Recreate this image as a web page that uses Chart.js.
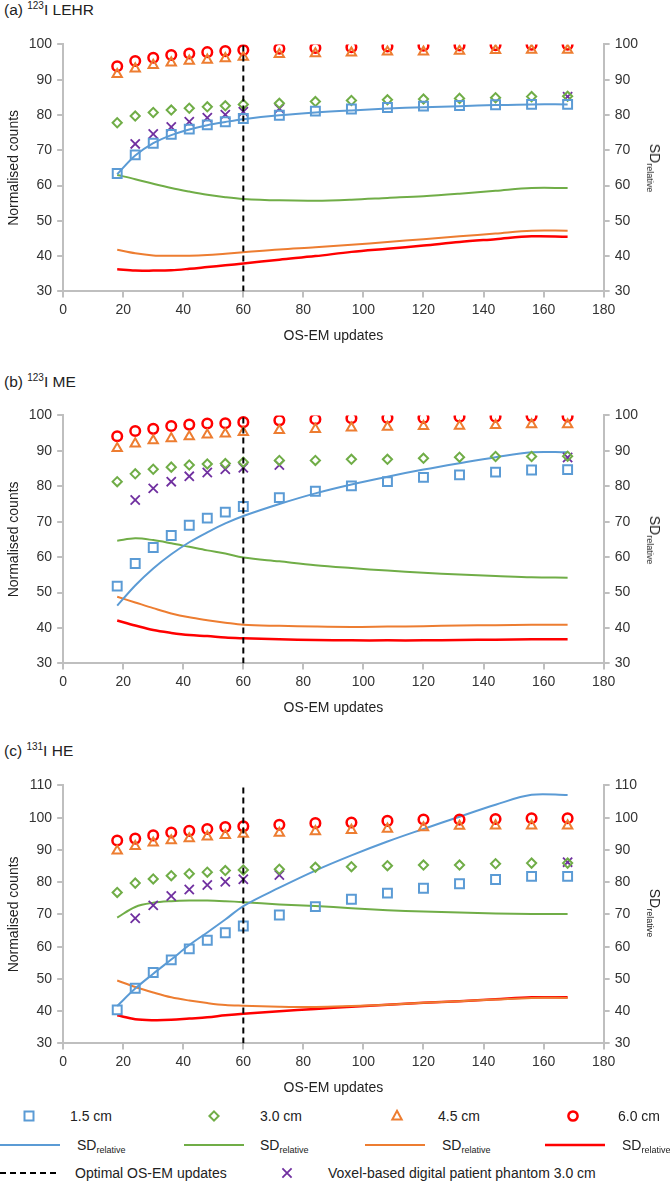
<!DOCTYPE html>
<html>
<head>
<meta charset="utf-8">
<script src="https://cdn.jsdelivr.net/npm/chart.js"></script>
<style>
  body { margin: 0; background: #fff; font-family: "Liberation Sans", Arial, sans-serif; color: #222; }
  #page { position: relative; width: 670px; height: 1181px; overflow: hidden; }
  canvas { position: absolute; left: 0; }
  .ptitle { position: absolute; left: 4px; font-size: 15.5px; line-height: 18px; }
  .ptitle sup { font-size: 10px; vertical-align: 6px; line-height: 0; }
  .sdtitle { position: absolute; font-size: 14px; white-space: nowrap; transform: translate(-50%, -50%) rotate(90deg); }
  .sdtitle sub, .lg sub { font-size: 9px; vertical-align: -3px; line-height: 0; }
  .lg { position: absolute; font-size: 14px; white-space: nowrap; transform: translateY(-50%); }
  svg.ic { position: absolute; overflow: visible; }
</style>
</head>
<body>
<div id="page">
  <div class="ptitle" style="top:1px">(a) <sup>123</sup>I LEHR</div>
  <canvas id="chartA" width="670" height="316" style="top:31px"></canvas>
  <div class="sdtitle" style="left:655px; top:168px">SD<sub>relative</sub></div>

  <div class="ptitle" style="top:373px">(b) <sup>123</sup>I ME</div>
  <canvas id="chartB" width="670" height="317" style="top:402px"></canvas>
  <div class="sdtitle" style="left:655px; top:540px">SD<sub>relative</sub></div>

  <div class="ptitle" style="top:742px">(c) <sup>131</sup>I HE</div>
  <canvas id="chartC" width="670" height="327" style="top:772px"></canvas>
  <div class="sdtitle" style="left:655px; top:913px">SD<sub>relative</sub></div>

  <div id="legend"></div>
</div>
<script>
// OS-EM updates (x) and shared settings
const xUpdates = [18, 24, 30, 36, 42, 48, 54, 60, 72, 84, 96, 108, 120, 132, 144, 156, 168];
const xVoxel = [24, 30, 36, 42, 48, 54, 60, 72, 168];
const optimalUpdates = 60;
const xTicks = [0, 20, 40, 60, 80, 100, 120, 140, 160, 180];

// (a) 123I LEHR
const a_sq15 = [63.4, 68.7, 72.0, 74.5, 76.0, 77.2, 78.1, 79.0, 79.9, 81.1, 81.7, 82.1, 82.5, 82.7, 82.9, 83.0, 83.0];
const a_di30 = [77.8, 79.7, 80.7, 81.4, 81.9, 82.3, 82.6, 83.0, 83.3, 83.8, 84.1, 84.3, 84.5, 84.7, 84.9, 85.2, 85.3];
const a_tr45 = [91.5, 93.1, 94.1, 94.8, 95.3, 95.6, 96.0, 96.4, 97.2, 97.4, 97.6, 97.9, 97.9, 98.1, 98.3, 98.4, 98.4];
const a_ci60 = [93.8, 95.3, 96.2, 97.0, 97.4, 97.8, 98.1, 98.4, 98.8, 99.0, 99.2, 99.4, 99.6, 99.7, 99.8, 99.9, 99.9];
const a_vox = [71.8, 74.6, 76.6, 78.1, 79.2, 80.1, 80.9, 81.8, 85.2];
const a_sd15 = [63.2, 68.5, 72.0, 74.3, 75.9, 77.1, 78.0, 78.8, 79.9, 80.7, 81.3, 81.8, 82.2, 82.5, 82.8, 83.0, 83.0];
const a_sd30 = [63.0, 61.8, 60.5, 59.3, 58.3, 57.4, 56.7, 56.2, 55.8, 55.7, 56.0, 56.5, 57.0, 57.7, 58.5, 59.3, 59.3];
const a_sd45 = [41.8, 40.8, 40.2, 40.1, 40.1, 40.3, 40.7, 41.1, 41.9, 42.5, 43.2, 44.0, 44.8, 45.6, 46.4, 47.2, 47.2];
const a_sd60 = [36.3, 35.9, 35.9, 36.0, 36.4, 36.9, 37.4, 37.9, 39.0, 40.0, 41.2, 42.1, 43.0, 44.0, 44.8, 45.6, 45.5];

// (b) 123I ME
const b_sq15 = [51.8, 58.2, 62.7, 66.1, 69.0, 71.0, 72.7, 74.3, 76.8, 78.6, 80.1, 81.3, 82.5, 83.2, 84.0, 84.6, 84.7];
const b_di30 = [81.3, 83.5, 84.8, 85.4, 86.0, 86.3, 86.4, 86.8, 87.3, 87.3, 87.6, 87.6, 87.9, 88.2, 88.4, 88.4, 88.5];
const b_tr45 = [90.7, 92.0, 92.9, 93.5, 94.0, 94.5, 94.8, 95.2, 95.8, 96.1, 96.5, 96.7, 96.9, 97.0, 97.2, 97.4, 97.4];
const b_ci60 = [94.1, 95.6, 96.2, 97.0, 97.4, 97.7, 97.8, 98.1, 98.6, 98.9, 99.2, 99.3, 99.3, 99.6, 99.6, 99.8, 99.7];
const b_vox = [76.1, 79.4, 81.3, 82.8, 83.9, 84.8, 85.2, 86.0, 88.1];
const b_sd15 = [46.3, 52.0, 56.8, 60.8, 64.2, 67.0, 69.5, 71.6, 75.0, 78.0, 80.5, 82.7, 84.7, 86.5, 88.2, 89.6, 89.6];
const b_sd30 = [64.6, 65.3, 64.8, 63.9, 62.9, 61.9, 61.0, 59.9, 58.8, 57.7, 56.9, 56.2, 55.6, 55.1, 54.7, 54.3, 54.2];
const b_sd45 = [48.8, 47.2, 45.6, 44.1, 43.0, 42.2, 41.5, 40.9, 40.6, 40.4, 40.3, 40.4, 40.5, 40.7, 40.8, 40.9, 40.9];
const b_sd60 = [42.1, 40.7, 39.4, 38.6, 38.0, 37.7, 37.3, 37.1, 36.8, 36.6, 36.5, 36.5, 36.5, 36.6, 36.7, 36.8, 36.8];

// (c) 131I HE
const c_sq15 = [40.4, 47.1, 52.0, 55.9, 59.3, 62.0, 64.3, 66.4, 69.8, 72.4, 74.7, 76.6, 78.1, 79.5, 80.8, 81.8, 81.8];
const c_di30 = [76.8, 79.7, 81.0, 82.0, 82.6, 83.1, 83.6, 83.8, 84.0, 84.6, 84.8, 85.1, 85.3, 85.3, 85.7, 85.9, 85.9];
const c_tr45 = [89.7, 91.1, 92.2, 92.9, 93.5, 94.1, 94.5, 94.9, 95.2, 95.7, 96.1, 96.5, 96.9, 97.4, 97.5, 97.5, 97.5];
const c_ci60 = [92.9, 93.5, 94.5, 95.4, 95.9, 96.5, 97.1, 97.3, 97.8, 98.3, 98.5, 99.0, 99.4, 99.4, 99.6, 99.8, 99.8];
const c_vox = [68.8, 72.8, 75.7, 77.7, 79.1, 80.1, 80.9, 82.2, 86.2];
const c_sd15 = [41.6, 47.0, 51.6, 56.0, 60.5, 64.4, 68.4, 72.6, 78.3, 83.6, 88.3, 92.6, 96.5, 100.3, 104.0, 107.1, 107.0];
const c_sd30 = [69.0, 72.3, 73.6, 74.1, 74.3, 74.3, 74.1, 73.8, 73.1, 72.6, 71.9, 71.3, 70.9, 70.6, 70.3, 70.1, 70.1];
const c_sd45 = [49.5, 47.5, 45.8, 44.3, 43.3, 42.5, 41.9, 41.7, 41.4, 41.3, 41.6, 42.0, 42.6, 43.1, 43.6, 44.1, 44.1];
const c_sd60 = [38.7, 37.5, 37.2, 37.3, 37.7, 38.1, 38.7, 39.2, 40.0, 40.7, 41.4, 42.0, 42.6, 43.1, 43.7, 44.3, 44.3];

const BLUE = '#5b9bd5', GREEN = '#70ad47', ORANGE = '#ed7d31', RED = '#ff0000', PURPLE = '#7030a0';
const AXIS = '#bfbfbf';
const FONT = { family: '"Liberation Sans", Arial, sans-serif', size: 14 };

function pts(xs, ys) {
  return ys.map((y, i) => ({ x: xs[i], y: y }));
}

function markers(label, xs, ys, style, radius, color, bw) {
  return {
    label: label, data: pts(xs, ys), showLine: false,
    pointStyle: style, pointRadius: radius, pointHoverRadius: radius,
    borderColor: color, backgroundColor: 'rgba(0,0,0,0)',
    pointBorderWidth: bw, order: 1, yAxisID: 'y'
  };
}

function sdLine(ys, color, width) {
  return {
    label: 'SDrelative', data: pts(xUpdates, ys), showLine: true,
    borderColor: color, borderWidth: width, pointRadius: 0,
    tension: 0.35, order: 2, yAxisID: 'y2'
  };
}

function yScale(pos, yMax, withTitle) {
  return {
    type: 'linear', position: pos, min: 30, max: yMax,
    ticks: { stepSize: 10, color: '#333', font: FONT, padding: 5 },
    border: { color: AXIS, width: 2 },
    grid: { drawOnChartArea: false, color: AXIS, lineWidth: 2, tickLength: 6 },
    title: withTitle ? { display: true, text: 'Normalised counts', color: '#222', font: FONT, padding: { top: 5, bottom: 1 } } : { display: false }
  };
}

function buildChart(id, yMax, d) {
  new Chart(document.getElementById(id), {
    type: 'scatter',
    data: {
      datasets: [
        {
          label: 'Optimal OS-EM updates',
          data: [{ x: optimalUpdates, y: 30 }, { x: optimalUpdates, y: yMax }],
          showLine: true, borderColor: '#000', borderWidth: 2, borderDash: [6, 4],
          pointRadius: 0, order: 0, yAxisID: 'y'
        },
        markers('1.5 cm', xUpdates, d.sq, 'rect', 6.3, BLUE, 2),
        markers('3.0 cm', xUpdates, d.di, 'rectRot', 4.6, GREEN, 2),
        markers('4.5 cm', xUpdates, d.tr, 'triangle', 5.4, ORANGE, 2),
        markers('6.0 cm', xUpdates, d.ci, 'circle', 4.8, RED, 2.5),
        markers('Voxel-based digital patient phantom 3.0 cm', xVoxel, d.vox, 'crossRot', 6.5, PURPLE, 1.8),
        sdLine(d.sd15, BLUE, 2),
        sdLine(d.sd30, GREEN, 2),
        sdLine(d.sd45, ORANGE, 2),
        sdLine(d.sd60, RED, 2.5)
      ]
    },
    options: {
      responsive: false,
      animation: false,
      devicePixelRatio: 1,
      layout: { padding: { left: 1, right: 27, top: 4, bottom: 0 } },
      plugins: { legend: { display: false }, tooltip: { enabled: false } },
      scales: {
        x: {
          type: 'linear', min: 0, max: 180,
          afterBuildTicks: (s) => { s.ticks = xTicks.map(v => ({ value: v })); },
          ticks: { color: '#333', font: FONT, padding: 4, maxRotation: 0 },
          border: { color: AXIS, width: 2 },
          grid: { drawOnChartArea: false, color: AXIS, lineWidth: 2, tickLength: 6 },
          title: { display: true, text: 'OS-EM updates', color: '#222', font: FONT, padding: { top: 6, bottom: 2 } }
        },
        y: yScale('left', yMax, true),
        y2: yScale('right', yMax, false)
      }
    }
  });
}

buildChart('chartA', 100, { sq: a_sq15, di: a_di30, tr: a_tr45, ci: a_ci60, vox: a_vox, sd15: a_sd15, sd30: a_sd30, sd45: a_sd45, sd60: a_sd60 });
buildChart('chartB', 100, { sq: b_sq15, di: b_di30, tr: b_tr45, ci: b_ci60, vox: b_vox, sd15: b_sd15, sd30: b_sd30, sd45: b_sd45, sd60: b_sd60 });
buildChart('chartC', 110, { sq: c_sq15, di: c_di30, tr: c_tr45, ci: c_ci60, vox: c_vox, sd15: c_sd15, sd30: c_sd30, sd45: c_sd45, sd60: c_sd60 });

// shared legend below the three panels
const legendItems = [
  { icon: 'rect', color: BLUE, ix: 29, tx: 70, y: 1116, text: '1.5 cm' },
  { icon: 'diamond', color: GREEN, ix: 214, tx: 260, y: 1116, text: '3.0 cm' },
  { icon: 'triangle', color: ORANGE, ix: 397, tx: 438, y: 1116, text: '4.5 cm' },
  { icon: 'circle', color: RED, ix: 573, tx: 618, y: 1116, text: '6.0 cm' },
  { icon: 'line', color: BLUE, ix: 0, tx: 77, y: 1145, text: 'SD<sub>relative</sub>' },
  { icon: 'line', color: GREEN, ix: 184, tx: 260, y: 1145, text: 'SD<sub>relative</sub>' },
  { icon: 'line', color: ORANGE, ix: 365, tx: 442, y: 1145, text: 'SD<sub>relative</sub>' },
  { icon: 'line', color: RED, ix: 545, tx: 622, y: 1145, text: 'SD<sub>relative</sub>' },
  { icon: 'dash', color: '#000', ix: 0, tx: 75, y: 1173, text: 'Optimal OS-EM updates' },
  { icon: 'cross', color: PURPLE, ix: 287, tx: 328, y: 1173, text: 'Voxel-based digital patient phantom 3.0 cm' }
];

const legend = document.getElementById('legend');
legendItems.forEach(it => {
  let svg = '';
  if (it.icon === 'rect') svg = `<rect x="-4.5" y="-4.5" width="9" height="9" fill="none" stroke="${it.color}" stroke-width="2"/>`;
  if (it.icon === 'diamond') svg = `<path d="M0 -4.6 L4.6 0 L0 4.6 L-4.6 0 Z" fill="none" stroke="${it.color}" stroke-width="2"/>`;
  if (it.icon === 'triangle') svg = `<path d="M0 -5.2 L4.7 3.4 L-4.7 3.4 Z" fill="none" stroke="${it.color}" stroke-width="2"/>`;
  if (it.icon === 'circle') svg = `<circle r="4.6" fill="none" stroke="${it.color}" stroke-width="2.5"/>`;
  if (it.icon === 'cross') svg = `<path d="M-4.6 -4.6 L4.6 4.6 M4.6 -4.6 L-4.6 4.6" stroke="${it.color}" stroke-width="1.8"/>`;
  if (it.icon === 'line') svg = `<line x1="0" y1="0" x2="60" y2="0" stroke="${it.color}" stroke-width="${it.color === RED ? 2.5 : 2}"/>`;
  if (it.icon === 'dash') svg = `<line x1="0" y1="0" x2="60" y2="0" stroke="#000" stroke-width="2" stroke-dasharray="6 4"/>`;
  const s = document.createElementNS('http://www.w3.org/2000/svg', 'svg');
  s.setAttribute('class', 'ic');
  s.setAttribute('width', '1');
  s.setAttribute('height', '1');
  s.style.left = it.ix + 'px';
  s.style.top = it.y + 'px';
  s.innerHTML = svg;
  legend.appendChild(s);
  const t = document.createElement('div');
  t.className = 'lg';
  t.style.left = it.tx + 'px';
  t.style.top = it.y + 'px';
  t.innerHTML = it.text;
  legend.appendChild(t);
});
</script>
</body>
</html>
